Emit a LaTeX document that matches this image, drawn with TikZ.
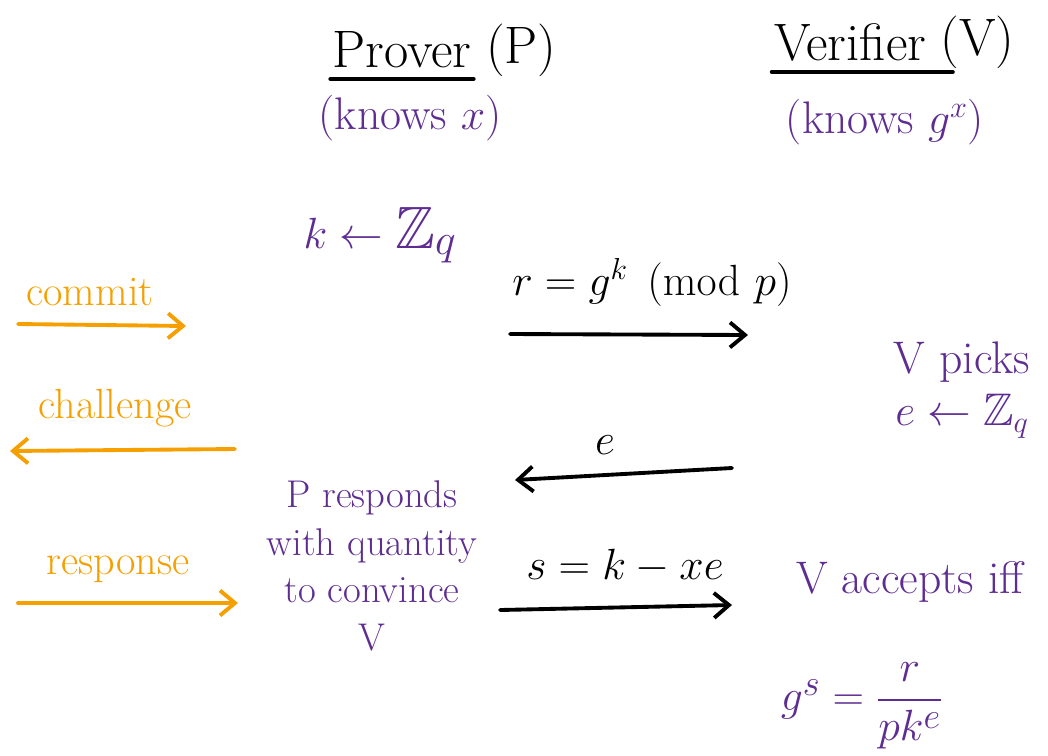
\documentclass[tikz,border=0pt]{standalone}
\usepackage{amsmath,amssymb}
\usetikzlibrary{arrows.meta,positioning}
\definecolor{inkpurple}{HTML}{5E2D91}
\definecolor{inkorange}{HTML}{F5A000}

\begin{document}
\begin{tikzpicture}[
    x=0.02cm, y=-0.02cm,
    head/.style={font=\fontsize{30}{34}\selectfont, text=black, inner sep=1pt},
    note/.style={font=\fontsize{26}{30}\selectfont, text=inkpurple, align=center, inner sep=1pt},
    phase/.style={font=\fontsize{24}{28}\selectfont, text=inkorange, inner sep=1pt},
    msg/.style={font=\fontsize{26}{30}\selectfont, text=black, inner sep=1pt},
    arrow/.style={-{Straight Barb[length=3mm, width=5mm]}, line width=2.2pt, line cap=round},
    uline/.style={line width=2.4pt, line cap=round},
]
\useasboundingbox (0,0) rectangle (1048,755);

% === PARTIES ===
\node[head] (prover) at (402,50) {Prover};
\node[head, right=6pt of prover] (pname) {(P)};
\node[head] (verifier) at (850,42) {Verifier};
\node[head, right=6pt of verifier] (vname) {(V)};
\draw[uline] ([yshift=-5pt]prover.south west) -- ([yshift=-5pt]prover.south east);
\draw[uline] ([yshift=-5pt]verifier.south west) -- ([yshift=-5pt,xshift=14pt]verifier.south east);

\node[note] (knowsx) at (410,118) {(knows $x$)};
\node[note] (knowsgx) at (885,122) {(knows $g^{x}$)};

% === COMMIT ===
\node[note, font=\fontsize{34}{38}\selectfont] (pick) at (380,235) {$k \leftarrow \mathbb{Z}_q$};
\node[msg] (rmsg) at (652,282) {$r = g^{k} \pmod{p}$};
\coordinate (r0) at (510,334);
\coordinate (r1) at (748,335);
\draw[arrow] (r0) -- (r1);

\node[phase] (commit) at (90,292) {commit};
\coordinate (c0) at (18,324);
\coordinate (c1) at (186,326);
\draw[arrow, color=inkorange] (c0) -- (c1);

% === CHALLENGE ===
\node[note, align=center] (vpicks) at (962,390) {V picks\\$e \leftarrow \mathbb{Z}_q$};
\node[msg] (emsg) at (605,445) {$e$};
\coordinate (e0) at (732,468);
\coordinate (e1) at (515,480);
\draw[arrow] (e0) -- (e1);

\node[phase] (challenge) at (115,408) {challenge};
\coordinate (h0) at (235,449);
\coordinate (h1) at (10,451);
\draw[arrow, color=inkorange] (h0) -- (h1);

% === RESPONSE ===
\node[note, font=\fontsize{22}{27}\selectfont] (presp) at (372,566) {P responds\\with quantity\\to convince\\V};
\node[msg] (smsg) at (625,566) {$s = k - xe$};
\coordinate (s0) at (500,610);
\coordinate (s1) at (732,605);
\draw[arrow] (s0) -- (s1);

\node[phase] (response) at (118,569) {response};
\coordinate (p0) at (18,603);
\coordinate (p1) at (238,603);
\draw[arrow, color=inkorange] (p0) -- (p1);

% === VERIFY ===
\node[note] (accept) at (910,582) {V accepts iff};
\node[note, font=\fontsize{30}{34}\selectfont] (check) at (862,706) {$g^{s} = \dfrac{r}{pk^{e}}$};

\end{tikzpicture}
\end{document}
